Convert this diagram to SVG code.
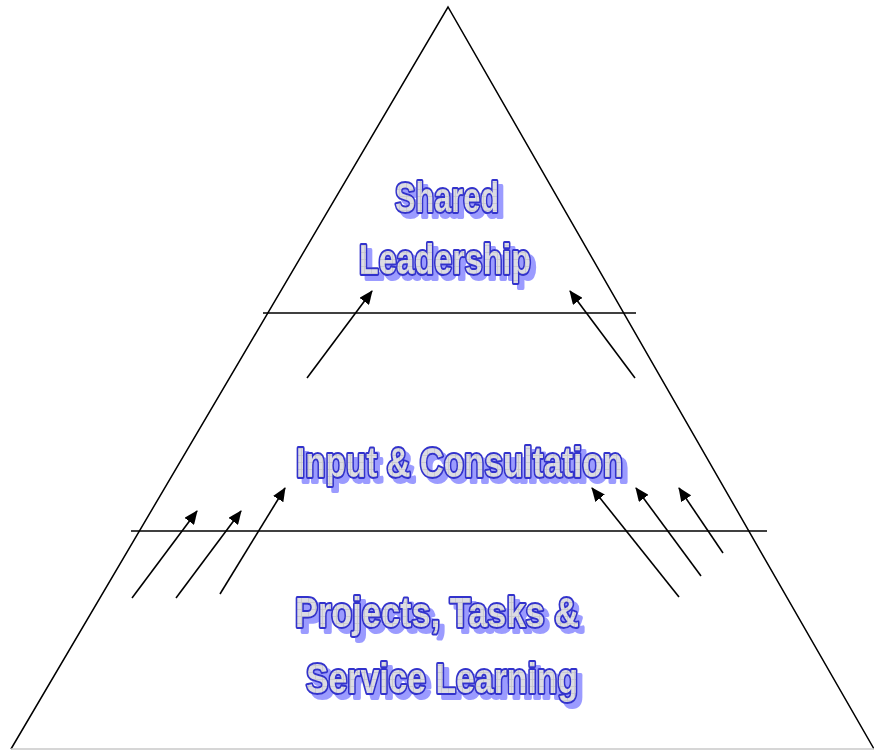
<svg xmlns="http://www.w3.org/2000/svg" width="874" height="750" viewBox="0 0 874 750">
  <style>
    .edge { stroke: #000; stroke-width: 1.5; fill: none; }
    .base { stroke: #c8c8c8; stroke-width: 1.5; fill: none; }
    .arrow { stroke: #000; stroke-width: 1.6; fill: none; marker-end: url(#ah); }
    .lbl { font-family: "Liberation Sans", Arial, sans-serif; font-weight: bold; font-size: 42px; fill: url(#grid); stroke: #3333cc; stroke-width: 4; paint-order: stroke; stroke-linejoin: round; filter: url(#shadow); }
  </style>
  <defs>
    <pattern id="grid" width="7" height="7" patternUnits="userSpaceOnUse">
      <rect width="7" height="7" fill="#dcdce2"/>
      <path d="M0 0.5H7M0.5 0V7" stroke="#c6c6cc" stroke-width="0.8"/>
    </pattern>
    <filter id="shadow" x="-10%" y="-20%" width="125%" height="150%">
      <feOffset in="SourceAlpha" dx="5" dy="5" result="off"/>
      <feFlood flood-color="#9b9bff"/>
      <feComposite in2="off" operator="in" result="sh"/>
      <feMerge>
        <feMergeNode in="sh"/>
        <feMergeNode in="SourceGraphic"/>
      </feMerge>
    </filter>
    <marker id="ah" markerWidth="14" markerHeight="12" refX="13" refY="6" orient="auto" markerUnits="userSpaceOnUse">
      <path d="M0 0L14 6L0 12Z" fill="#000"/>
    </marker>
  </defs>

  <g id="pyramid">
    <polyline class="edge" points="11,749 448,7 874,749"/>
    <line class="base" x1="11" y1="749" x2="874" y2="749"/>
    <line class="edge" x1="263" y1="313" x2="636" y2="313"/>
    <line class="edge" x1="131" y1="531" x2="767" y2="531"/>
  </g>

  <g id="connectors">
    <line class="arrow" x1="307" y1="378" x2="372" y2="291"/>
    <line class="arrow" x1="635" y1="378" x2="570" y2="291"/>
    <line class="arrow" x1="132" y1="598" x2="197" y2="511"/>
    <line class="arrow" x1="176" y1="598" x2="241" y2="511"/>
    <line class="arrow" x1="220" y1="594" x2="285" y2="488"/>
    <line class="arrow" x1="679" y1="597" x2="592" y2="488"/>
    <line class="arrow" x1="701" y1="576" x2="636" y2="488"/>
    <line class="arrow" x1="723" y1="553" x2="679" y2="488"/>
  </g>

  <g id="shared-leadership">
    <text class="lbl" x="395" y="212" textLength="104" lengthAdjust="spacingAndGlyphs">Shared</text>
    <text class="lbl" x="359" y="274" textLength="172" lengthAdjust="spacingAndGlyphs">Leadership</text>
  </g>

  <g id="input-consultation">
    <text class="lbl" x="296" y="477" textLength="327" lengthAdjust="spacingAndGlyphs">Input &amp; Consultation</text>
  </g>

  <g id="projects-tasks">
    <text class="lbl" x="295" y="627" textLength="284" lengthAdjust="spacingAndGlyphs">Projects, Tasks &amp;</text>
    <text class="lbl" x="306" y="693" textLength="272" lengthAdjust="spacingAndGlyphs">Service Learning</text>
  </g>
</svg>
